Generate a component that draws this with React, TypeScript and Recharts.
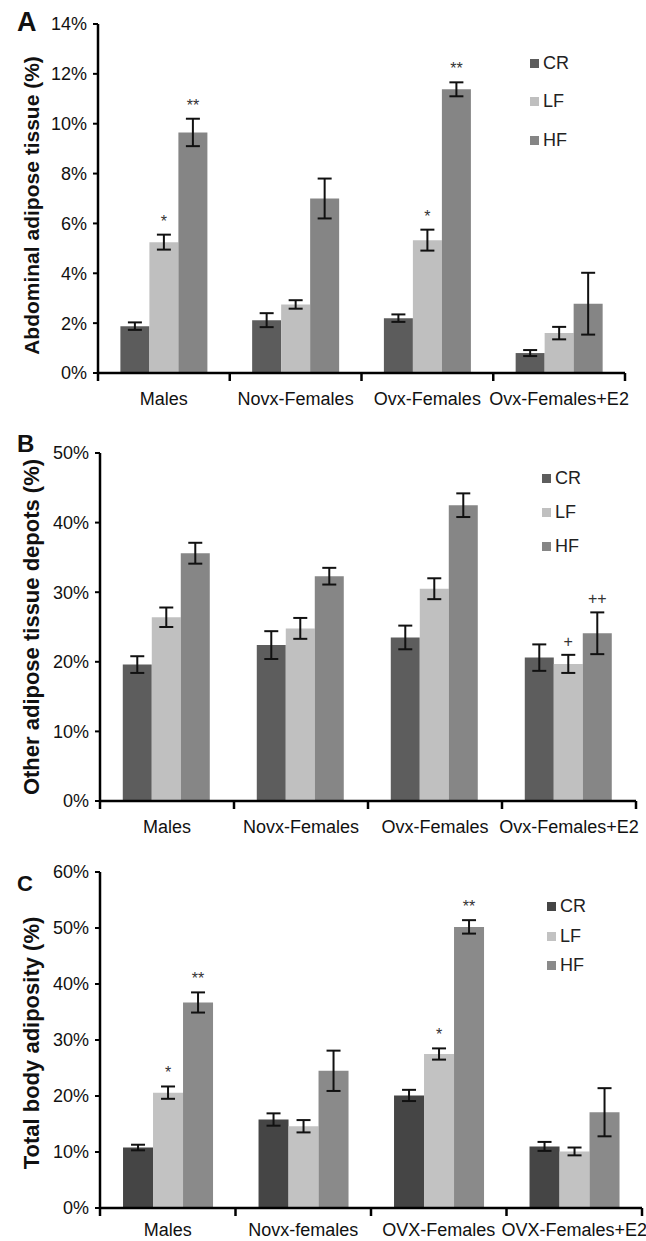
import React from "react"
import { Bar, BarChart, ErrorBar, LabelList, Legend, XAxis, YAxis } from "recharts"

const FONT = '"Liberation Sans", Arial, Helvetica, sans-serif'
const seriesOrder = ["CR", "LF", "HF"]

// ---- Panel A: abdominal adipose tissue (%)
const groupsA = ["Males", "Novx-Females", "Ovx-Females", "Ovx-Females+E2"]
const crA = [1.88, 2.12, 2.2, 0.8]
const crErrA = [0.15, 0.28, 0.15, 0.12]
const lfA = [5.25, 2.75, 5.33, 1.6]
const lfErrA = [0.3, 0.17, 0.42, 0.25]
const hfA = [9.65, 7.0, 11.38, 2.78]
const hfErrA = [0.55, 0.8, 0.28, 1.24]
const lfMarkA = ["*", "", "*", ""]
const hfMarkA = ["**", "", "**", ""]
const ticksA = [0, 2, 4, 6, 8, 10, 12, 14]

// ---- Panel B: other adipose tissue depots (%)
const groupsB = ["Males", "Novx-Females", "Ovx-Females", "Ovx-Females+E2"]
const crB = [19.6, 22.4, 23.5, 20.6]
const crErrB = [1.2, 2.0, 1.7, 1.9]
const lfB = [26.4, 24.8, 30.5, 19.7]
const lfErrB = [1.4, 1.5, 1.5, 1.3]
const hfB = [35.6, 32.3, 42.5, 24.1]
const hfErrB = [1.5, 1.2, 1.7, 3.0]
const lfMarkB = ["", "", "", "+"]
const hfMarkB = ["", "", "", "++"]
const ticksB = [0, 10, 20, 30, 40, 50]

// ---- Panel C: total body adiposity (%)
const groupsC = ["Males", "Novx-females", "OVX-Females", "OVX-Females+E2"]
const crC = [10.8, 15.8, 20.1, 11.0]
const crErrC = [0.5, 1.1, 1.0, 0.8]
const lfC = [20.6, 14.6, 27.5, 10.1]
const lfErrC = [1.1, 1.1, 1.0, 0.7]
const hfC = [36.7, 24.5, 50.2, 17.1]
const hfErrC = [1.8, 3.6, 1.2, 4.3]
const lfMarkC = ["*", "", "*", ""]
const hfMarkC = ["**", "", "**", ""]
const ticksC = [0, 10, 20, 30, 40, 50, 60]

const buildRows = (
    groups: string[],
    cr: number[], crErr: number[],
    lf: number[], lfErr: number[],
    hf: number[], hfErr: number[],
    lfMark: string[], hfMark: string[]
) =>
    groups.map((g, i) => ({
        group: g,
        CR: cr[i], CRe: crErr[i],
        LF: lf[i], LFe: lfErr[i], LFm: lfMark[i],
        HF: hf[i], HFe: hfErr[i], HFm: hfMark[i],
    }))

// significance marks sit just above the error bar cap
const markerContent = (rows: any[], key: string) => (props: any) => {
    const vb = props.viewBox || props
    const { x, y, width, height } = vb
    const { value, index } = props
    if (!value) return null
    const row = rows[index]
    const pxPerUnit = height / row[key]
    const capTop = y - row[key + "e"] * pxPerUnit
    return (
        <text x={x + width / 2} y={capTop - 8} textAnchor="middle" fontSize={16} fill="#333" fontFamily={FONT}>
            {value}
        </text>
    )
}

// category ticks sit on the group boundaries, labels in the middle
const makeCategoryTick = (labelOffset: number) => (props: any) => {
    const { x, y, payload, index, visibleTicksCount, width } = props
    const half = payload.offset || width / (visibleTicksCount || 4) / 2
    const last = index === visibleTicksCount - 1
    return (
        <g>
            <line x1={x - half} x2={x - half} y1={y} y2={y + 8} stroke="#000" strokeWidth={2.5} />
            {last && <line x1={x + half} x2={x + half} y1={y} y2={y + 8} stroke="#000" strokeWidth={2.5} />}
            <text x={x} y={y + labelOffset} textAnchor="middle" fontSize={18} fill="#111" fontFamily={FONT}>
                {payload.value}
            </text>
        </g>
    )
}

const legendContent = (rowGap: number) => (props: any) => {
    const items = [...(props.payload || [])].sort(
        (a: any, b: any) => seriesOrder.indexOf(a.value) - seriesOrder.indexOf(b.value)
    )
    return (
        <div style={{ fontFamily: FONT }}>
            {items.map((p: any) => (
                <div key={p.value} style={{ display: "flex", alignItems: "center", height: rowGap, fontSize: 18, color: "#222" }}>
                    <span style={{ display: "inline-block", width: 9, height: 9, background: p.color, marginRight: 4 }} />
                    {p.value}
                </div>
            ))}
        </div>
    )
}

interface PanelProps {
    letter: string
    letterSize: number
    letterTop: number
    title: string
    titleSize: number
    titleShift: number
    rows: any[]
    ticks: number[]
    colors: string[]
    height: number
    margin: { top: number; right: number; left: number; bottom: number }
    yWidth: number
    xHeight: number
    labelOffset: number
    legendLeft: number
    legendTop: number
    legendGap: number
}

function Panel(p: PanelProps) {
    const titleLabel = (lp: any) => {
        const vb = lp.viewBox || {}
        const cy = (vb.y ?? p.margin.top) + (vb.height ?? 0) / 2 + p.titleShift
        return (
            <text
                x={31}
                y={cy}
                transform={`rotate(-90, 31, ${cy})`}
                textAnchor="middle"
                dominantBaseline="central"
                fontSize={p.titleSize}
                fontWeight="bold"
                fill="#111"
                fontFamily={FONT}
            >
                {p.title}
            </text>
        )
    }

    return (
        <div style={{ position: "relative", width: 646, height: p.height }}>
            <div
                style={{
                    position: "absolute", left: 17, top: p.letterTop, fontSize: p.letterSize,
                    fontWeight: "bold", lineHeight: 1, fontFamily: FONT, color: "#111", zIndex: 2,
                }}
            >
                {p.letter}
            </div>
            <BarChart
                width={646}
                height={p.height}
                data={p.rows}
                margin={p.margin}
                barCategoryGap="17%"
                barGap={0}
            >
                <XAxis
                    dataKey="group"
                    height={p.xHeight}
                    axisLine={{ stroke: "#000", strokeWidth: 2.5 }}
                    tickLine={false}
                    tickSize={0}
                    tickMargin={0}
                    interval={0}
                    tick={makeCategoryTick(p.labelOffset)}
                />
                <YAxis
                    width={p.yWidth}
                    domain={[p.ticks[0], p.ticks[p.ticks.length - 1]]}
                    ticks={p.ticks}
                    interval={0}
                    tickFormatter={(v: number) => `${v}%`}
                    axisLine={{ stroke: "#000", strokeWidth: 2.5 }}
                    tickLine={{ stroke: "#000", strokeWidth: 2 }}
                    tickSize={5}
                    tickMargin={6}
                    tick={{ fill: "#111", fontSize: 18, fontFamily: FONT }}
                    label={titleLabel}
                />
                <Legend
                    layout="vertical"
                    align="center"
                    verticalAlign="middle"
                    wrapperStyle={{ left: p.legendLeft, top: p.legendTop, width: "auto" }}
                    content={legendContent(p.legendGap)}
                />
                <Bar dataKey="CR" name="CR" fill={p.colors[0]} isAnimationActive={false}>
                    <ErrorBar dataKey="CRe" width={7} strokeWidth={2} stroke="#111" />
                </Bar>
                <Bar dataKey="LF" name="LF" fill={p.colors[1]} isAnimationActive={false}>
                    <ErrorBar dataKey="LFe" width={7} strokeWidth={2} stroke="#111" />
                    <LabelList dataKey="LFm" content={markerContent(p.rows, "LF")} />
                </Bar>
                <Bar dataKey="HF" name="HF" fill={p.colors[2]} isAnimationActive={false}>
                    <ErrorBar dataKey="HFe" width={7} strokeWidth={2} stroke="#111" />
                    <LabelList dataKey="HFm" content={markerContent(p.rows, "HF")} />
                </Bar>
            </BarChart>
        </div>
    )
}

const rowsA = buildRows(groupsA, crA, crErrA, lfA, lfErrA, hfA, hfErrA, lfMarkA, hfMarkA)
const rowsB = buildRows(groupsB, crB, crErrB, lfB, lfErrB, hfB, hfErrB, lfMarkB, hfMarkB)
const rowsC = buildRows(groupsC, crC, crErrC, lfC, lfErrC, hfC, hfErrC, lfMarkC, hfMarkC)

export default function App() {
    return (
        <div style={{ width: 646, height: 1241, background: "#fff", fontFamily: FONT }}>
            <style>{"body{margin:0;background:#fff}"}</style>
            <Panel
                letter="A" letterSize={27} letterTop={9}
                title="Abdominal adipose tissue (%)" titleSize={21} titleShift={7}
                rows={rowsA} ticks={ticksA}
                colors={["#5c5c5c", "#bfbfbf", "#858585"]}
                height={410}
                margin={{ top: 24, right: 21, left: 0, bottom: 0 }}
                yWidth={98} xHeight={37} labelOffset={31.5}
                legendLeft={530} legendTop={44} legendGap={38.5}
            />
            <Panel
                letter="B" letterSize={24} letterTop={22}
                title="Other adipose tissue depots (%)" titleSize={22} titleShift={0}
                rows={rowsB} ticks={ticksB}
                colors={["#5d5d5d", "#c0c0c0", "#868686"]}
                height={425}
                margin={{ top: 43, right: 10, left: 0, bottom: 0 }}
                yWidth={100} xHeight={34} labelOffset={31.5}
                legendLeft={542} legendTop={51} legendGap={34}
            />
            <Panel
                letter="C" letterSize={22} letterTop={38}
                title="Total body adiposity (%)" titleSize={22} titleShift={3}
                rows={rowsC} ticks={ticksC}
                colors={["#454545", "#c2c2c2", "#8a8a8a"]}
                height={406}
                margin={{ top: 37, right: 4, left: 0, bottom: 0 }}
                yWidth={100} xHeight={33} labelOffset={28}
                legendLeft={547} legendTop={57} legendGap={29.5}
            />
        </div>
    )
}
